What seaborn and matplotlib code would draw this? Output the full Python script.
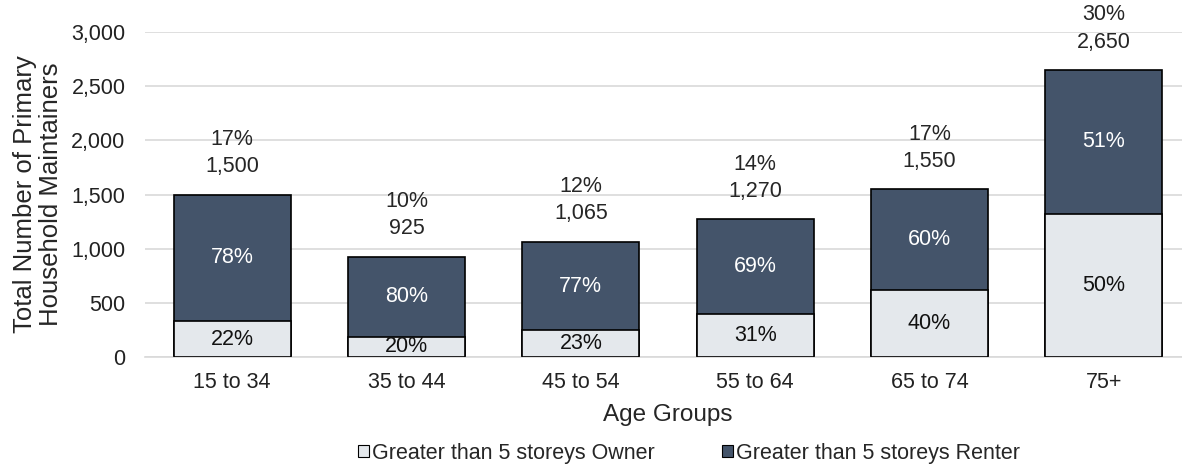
import matplotlib
matplotlib.use("Agg")
import matplotlib.pyplot as plt
import matplotlib.patches as mpatches
import seaborn as sns
import pandas as pd

# data
age_groups = ["15 to 34", "35 to 44", "45 to 54", "55 to 64", "65 to 74", "75+"]
totals = [1500, 925, 1065, 1270, 1550, 2650]
owners = [330, 185, 245, 395, 620, 1320]
share_of_total = ["17%", "10%", "12%", "14%", "17%", "30%"]
owner_pct = ["22%", "20%", "23%", "31%", "40%", "50%"]
renter_pct = ["78%", "80%", "77%", "69%", "60%", "51%"]

dark = "#44546A"
light = "#E4E8EC"
fs = 15.5

df = pd.DataFrame({"age": age_groups, "total": totals, "owner": owners})

sns.set_style("white")
plt.rcParams["font.family"] = ["Liberation Sans", "DejaVu Sans"]
plt.rcParams["font.size"] = fs

fig = plt.figure(figsize=(11.82, 4.68), dpi=100)
ax = fig.add_axes([145 / 1182, 1 - 357 / 468, 1046 / 1182, 325 / 468])

# renter on top = whole bar dark, owner overlaid from zero
sns.barplot(data=df, x="age", y="total", color=dark, width=0.67,
            edgecolor="black", linewidth=1.2, saturation=1, ax=ax, zorder=2)
sns.barplot(data=df, x="age", y="owner", color=light, width=0.67,
            edgecolor="black", linewidth=1.2, saturation=1, ax=ax, zorder=3)

ax.set_ylim(0, 3000)
ax.set_xlim(-0.5, 5.5)
ax.set_yticks(range(0, 3001, 500))
ax.set_yticklabels([f"{v:,}" for v in range(0, 3001, 500)])
ax.yaxis.grid(True, color="#D9D9D9", linewidth=1.2, zorder=0)
ax.set_axisbelow(True)
for s in ["top", "right", "left"]:
    ax.spines[s].set_visible(False)
ax.spines["bottom"].set_color("#D9D9D9")
ax.spines["bottom"].set_linewidth(1.2)
ax.tick_params(axis="both", length=0, labelsize=fs, colors="#222222")
ax.tick_params(axis="x", pad=11)
ax.tick_params(axis="y", pad=14)

ax.set_xlabel("Age Groups", fontsize=17.5, labelpad=8)
ax.set_ylabel("Total Number of Primary\nHousehold Maintainers", fontsize=18.5, labelpad=6,
              linespacing=1.08)

for i in range(len(age_groups)):
    o = owners[i]
    t = totals[i]
    ax.text(i, o / 2, owner_pct[i], ha="center", va="center", fontsize=fs, color="#111111", zorder=5)
    ax.text(i, o + (t - o) / 2, renter_pct[i], ha="center", va="center", fontsize=fs, color="white", zorder=5)
    ax.annotate(f"{share_of_total[i]}\n{t:,}", (i, t), xytext=(0, 12.5), textcoords="offset points",
                ha="center", va="bottom", fontsize=fs, linespacing=1.38, annotation_clip=False)

handles = [mpatches.Patch(facecolor=light, edgecolor="black", linewidth=0.8, label="Greater than 5 storeys Owner"),
           mpatches.Patch(facecolor=dark, edgecolor="black", linewidth=0.8, label="Greater than 5 storeys Renter")]
fig.legend(handles=handles, loc="center", bbox_to_anchor=(689 / 1182, 1 - 453 / 468), ncol=2,
           frameon=False, fontsize=fs, handlelength=0.5, handleheight=0.5, handletextpad=0.15,
           columnspacing=3.1)

fig.savefig("out.png", dpi=100)
